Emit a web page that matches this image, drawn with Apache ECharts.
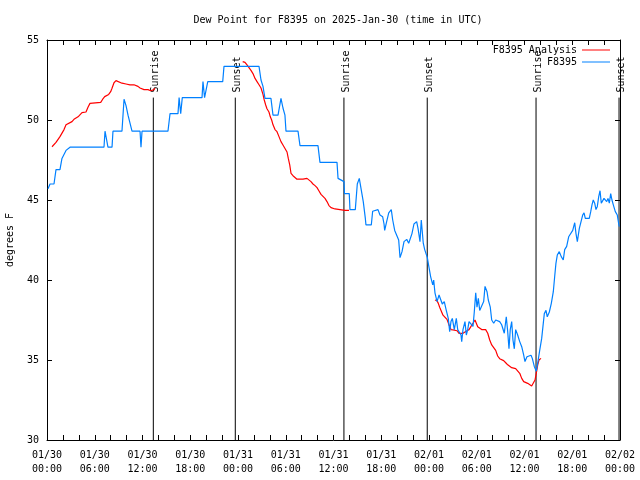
<!DOCTYPE html>
<html>
<head>
<meta charset="utf-8">
<script src="https://cdn.jsdelivr.net/npm/echarts@6/dist/echarts.min.js"></script>
<style>html,body{margin:0;padding:0;background:#fff;}#chart{width:640px;height:480px;}</style>
</head>
<body>
<div id="chart"></div>
<script>
// x values are hours since 2025-01-30 00:00 UTC
const xTickLabels = ['01/30\n00:00','01/30\n06:00','01/30\n12:00','01/30\n18:00','01/31\n00:00','01/31\n06:00','01/31\n12:00','01/31\n18:00','02/01\n00:00','02/01\n06:00','02/01\n12:00','02/01\n18:00','02/02\n00:00'];
const yTicks = [30, 35, 40, 45, 50, 55];
const sunHours = [13.36, 23.66, 37.31, 47.78, 61.45, 71.88];
const sunLabels = ['Sunrise', 'Sunset', 'Sunrise', 'Sunset', 'Sunrise', 'Sunset'];
const sunLineTop = 51.4;

const analysis = [[0.63,48.33],[0.88,48.33],[1.13,48.6],[1.63,48.96],[1.88,49.0],[2.14,49.4],[2.39,49.7],[2.64,49.75],[3.14,49.9],[3.39,50.04],[3.64,50.1],[3.90,50.2],[4.15,50.3],[4.40,50.46],[4.65,50.5],[4.90,50.5],[5.15,50.8],[5.40,51.04],[5.65,51.1],[6.75,51.1],[7.00,51.3],[7.25,51.46],[7.50,51.56],[7.75,51.6],[8.00,51.77],[8.17,51.98],[8.42,52.33],[8.67,52.46],[8.92,52.4],[9.42,52.3],[9.93,52.25],[10.43,52.2],[10.93,52.2],[11.18,52.1],[11.43,52.1],[11.69,52.0],[12.19,51.9],[12.69,51.9],[13.03,51.83],[13.44,51.9],[13.57,52.0],
[18,'-'],
[24.59,53.65],[24.88,53.6],[25.13,53.44],[25.38,53.27],[25.63,53.1],[25.88,52.9],[26.14,52.6],[26.39,52.4],[26.64,52.2],[26.89,52.0],[27.14,51.6],[27.30,51.25],[27.48,50.94],[27.64,50.7],[27.89,50.5],[28.06,50.2],[28.23,50.0],[28.40,49.7],[28.65,49.4],[28.90,49.27],[29.15,48.96],[29.40,48.65],[29.65,48.44],[29.90,48.33],[30.16,48.0],[30.32,47.6],[30.50,47.2],[30.66,46.67],[30.91,46.52],[31.16,46.4],[31.41,46.3],[31.66,46.23],[32.17,46.3],[32.67,46.35],[32.92,46.35],[33.17,46.15],[33.42,46.0],[33.68,45.9],[33.93,45.77],[34.18,45.56],[34.43,45.35],[34.68,45.27],[34.93,45.1],[35.18,44.9],[35.43,44.65],[35.69,44.52],[35.94,44.48],[36.19,44.44],[36.44,44.38],[37.44,44.35],[37.95,44.35],
[43,'-'],
[48.75,38.75],[49.01,38.7],[49.17,38.54],[49.34,38.3],[49.51,38.1],[49.76,37.8],[50.01,37.75],[50.26,37.54],[50.51,37.2],[50.76,36.9],[51.02,36.88],[51.52,36.83],[51.77,36.67],[52.02,36.56],[52.27,36.67],[52.52,36.77],[52.77,36.83],[53.03,36.9],[53.28,37.1],[53.53,37.3],[53.78,37.5],[53.94,37.54],[54.12,37.08],[54.37,37.04],[54.62,36.9],[54.87,36.98],[55.12,36.9],[55.38,36.67],[55.63,36.25],[55.88,35.94],[56.13,35.83],[56.38,35.6],[56.63,35.25],[56.88,35.08],[57.38,34.96],[57.64,34.83],[57.89,34.7],[58.14,34.58],[58.39,34.52],[58.89,34.46],[59.14,34.42],[59.40,34.17],[59.65,33.85],[59.90,33.65],[60.15,33.58],[60.40,33.54],[60.65,33.46],[60.90,33.38],[61.15,33.5],[61.32,33.75],[61.48,34.17],[61.66,34.7],[61.82,35.0],[62.07,35.1]];

const station = [[0.13,45.7],[0.38,46.0],[0.88,46.0],[1.13,46.9],[1.38,47.0],[1.63,46.9],[1.88,47.6],[2.39,48.1],[2.64,48.1],[2.89,48.3],[7.16,48.3],[7.29,49.3],[7.54,49.3],[7.66,48.3],[8.17,48.3],[8.29,49.3],[9.42,49.3],[9.68,51.3],[9.93,50.9],[10.18,50.3],[10.43,49.8],[10.68,49.3],[11.69,49.3],[11.81,48.3],[11.94,49.3],[15.20,49.3],[15.46,50.4],[16.46,50.4],[16.6,51.4],[16.8,50.4],[17.0,51.4],[19.48,51.4],[19.6,52.4],[19.8,51.4],[20.05,51.4],[20.2,52.4],[22.08,52.4],[22.24,53.35],[26.64,53.35],[26.89,52.5],[27.14,52.1],[27.39,51.35],[28.14,51.35],[28.40,50.3],[29.03,50.3],[29.40,51.35],[29.65,50.75],[29.90,50.3],[30.03,49.3],[31.54,49.3],[31.79,48.4],[34.05,48.4],[34.30,47.35],[36.44,47.35],[36.57,46.35],[37.32,46.15],[37.38,45.4],[37.98,45.4],[38.07,44.4],[38.74,44.4],[38.99,46.0],[39.24,46.35],[39.49,46.35],[39.74,44.9],[40.00,43.85],[40.08,43.44],[40.75,43.44],[40.92,44.3],[41.59,44.4],[41.84,44.06],[42.18,43.95],[42.35,43.5],[42.43,43.1],[42.68,43.65],[42.94,44.2],[43.26,44.4],[43.44,43.75],[43.69,43.1],[43.94,43.0],[44.19,42.5],[44.36,41.4],[44.61,41.77],[44.86,42.4],[45.20,42.54],[45.45,42.3],[45.70,42.3],[45.86,42.9],[46.11,43.5],[46.45,43.65],[46.62,43.23],[46.87,42.4],[47.03,43.75],[47.28,42.3],[47.46,41.9],[47.71,41.8],[47.79,41.4],[47.96,40.9],[48.21,40.2],[48.47,39.7],[48.59,40.0],[48.75,39.2],[49.01,38.65],[49.26,39.06],[49.51,38.96],[49.67,38.5],[49.92,38.65],[50.17,38.1],[50.42,37.6],[50.60,36.77],[50.76,37.4],[50.93,37.6],[51.18,36.9],[51.43,37.6],[51.61,36.9],[51.86,37.0],[52.02,36.56],[52.11,36.15],[52.27,36.9],[52.52,37.4],[52.69,36.56],[52.86,36.9],[53.03,37.4],[53.28,37.5],[53.53,37.1],[53.69,38.0],[53.87,39.2],[54.03,38.3],[54.20,38.85],[54.37,38.1],[54.62,38.2],[54.87,38.65],[55.04,39.6],[55.29,39.27],[55.45,38.75],[55.70,38.3],[55.88,37.5],[56.13,37.3],[56.38,37.5],[56.63,37.4],[56.88,37.4],[57.13,37.2],[57.46,36.67],[57.71,37.7],[57.89,36.77],[58.05,35.7],[58.21,36.9],[58.39,37.4],[58.55,36.25],[58.72,35.7],[58.89,36.9],[59.14,36.56],[59.40,36.15],[59.65,35.83],[59.90,35.3],[60.06,34.9],[60.31,35.2],[60.56,35.2],[60.82,35.3],[60.98,35.1],[61.23,34.6],[61.48,34.3],[61.66,34.8],[61.91,35.6],[62.16,36.35],[62.32,37.1],[62.49,37.9],[62.70,38.1],[62.86,37.7],[63.12,38.0],[63.37,38.54],[63.62,39.27],[63.79,40.2],[63.95,41.04],[64.12,41.56],[64.37,41.77],[64.62,41.46],[64.87,41.25],[65.05,41.9],[65.30,42.1],[65.55,42.7],[65.80,42.8],[66.06,43.1],[66.31,43.58],[66.47,42.9],[66.64,42.4],[66.89,43.23],[67.14,43.33],[67.31,44.06],[67.48,44.2],[67.64,43.85],[68.14,43.85],[68.32,44.27],[68.48,44.7],[68.64,45.0],[68.82,44.8],[68.98,44.4],[69.15,44.6],[69.32,45.2],[69.49,45.58],[69.65,44.8],[69.83,44.8],[69.99,45.1],[70.15,45.0],[70.33,44.9],[70.49,45.1],[70.66,44.8],[70.83,45.4],[70.99,45.0],[71.16,44.7],[71.41,44.27],[71.66,44.06],[71.84,43.5],[71.91,43.33]];

const FONT = 'DejaVu Sans Mono';
const chart = echarts.init(document.getElementById('chart'), null, {renderer: 'canvas'});

const xCommon = {
  type: 'value', min: 0, max: 72, interval: 6,
  axisLine: {show: true, onZero: false, lineStyle: {color: '#000', width: 1}},
  axisTick: {show: true, inside: true, length: 5, lineStyle: {color: '#000'}},
  minorTick: {show: true, splitNumber: 3, length: 5, lineStyle: {color: '#000'}},
  splitLine: {show: false}
};
const yCommon = {
  type: 'value', min: 30, max: 55, interval: 5,
  axisLine: {show: true, onZero: false, lineStyle: {color: '#000', width: 1}},
  axisTick: {show: true, inside: true, length: 5, lineStyle: {color: '#000'}},
  splitLine: {show: false}
};

chart.setOption({
  animation: false,
  backgroundColor: '#fff',
  title: {
    text: 'Dew Point for F8395 on 2025-Jan-30 (time in UTC)',
    left: 333, top: 10, textAlign: 'center',
    textStyle: {fontFamily: FONT, fontSize: 10, fontWeight: 'normal', color: '#000'}
  },
  legend: [
    {data: ['F8395 Analysis'], right: 30, top: 45, orient: 'vertical', align: 'right', icon: 'rect', itemWidth: 28, itemHeight: 1,
     textStyle: {fontFamily: FONT, fontSize: 10, color: '#000'}, padding: 0},
    {data: ['F8395'], right: 30, top: 57, orient: 'vertical', align: 'right', icon: 'rect', itemWidth: 28, itemHeight: 1,
     textStyle: {fontFamily: FONT, fontSize: 10, color: '#000'}, padding: 0}
  ],
  grid: {left: 47, right: 20, top: 40, bottom: 40, containLabel: false, outerBoundsMode: 'none'},
  xAxis: [
    Object.assign({}, xCommon, {
      position: 'bottom',
      axisLabel: {
        show: true, margin: 8, fontFamily: FONT, fontSize: 10, color: '#000', lineHeight: 14,
        formatter: function (v) { return (v % 6 === 0) ? xTickLabels[Math.round(v / 6)] : ''; }
      }
    }),
    Object.assign({}, xCommon, {position: 'top', axisLabel: {show: false}})
  ],
  yAxis: [
    Object.assign({}, yCommon, {
      position: 'left',
      name: 'degrees F', nameLocation: 'middle', nameGap: 32, nameRotate: 90,
      nameTextStyle: {fontFamily: FONT, fontSize: 10, color: '#000'},
      axisLabel: {show: true, margin: 8, fontFamily: FONT, fontSize: 10, color: '#000',
        formatter: function (v) { return yTicks.indexOf(v) >= 0 ? String(v) : ''; }}
    }),
    Object.assign({}, yCommon, {position: 'right', axisLabel: {show: false}})
  ],
  series: [
    {
      type: 'custom', name: 'sun', xAxisIndex: 0, yAxisIndex: 0, clip: false, silent: true,
      data: sunHours.map(function (h) { return [h]; }),
      encode: {x: 0},
      renderItem: function (params, api) {
        const h = api.value(0);
        const top = api.coord([h, sunLineTop]);
        const bot = api.coord([h, 30]);
        return {
          type: 'group',
          children: [
            {type: 'line', shape: {x1: top[0], y1: top[1], x2: bot[0], y2: bot[1]},
             style: {stroke: '#000', lineWidth: 1}},
            {type: 'text', x: top[0] + 2, y: top[1] - 5, rotation: Math.PI / 2,
             style: {text: sunLabels[params.dataIndex], fontFamily: FONT, fontSize: 10, fill: '#000',
                     align: 'left', verticalAlign: 'middle'}}
          ]
        };
      }
    },
    {
      type: 'line', name: 'F8395 Analysis', data: analysis, showSymbol: false, symbol: 'none',
      connectNulls: false,
      lineStyle: {color: '#ff0000', width: 1.2}, itemStyle: {color: '#ff0000'}, z: 3
    },
    {
      type: 'line', name: 'F8395', data: station, showSymbol: false, symbol: 'none',
      lineStyle: {color: '#0080ff', width: 1.2}, itemStyle: {color: '#0080ff'}, z: 4
    }
  ]
});
</script>
</body>
</html>
